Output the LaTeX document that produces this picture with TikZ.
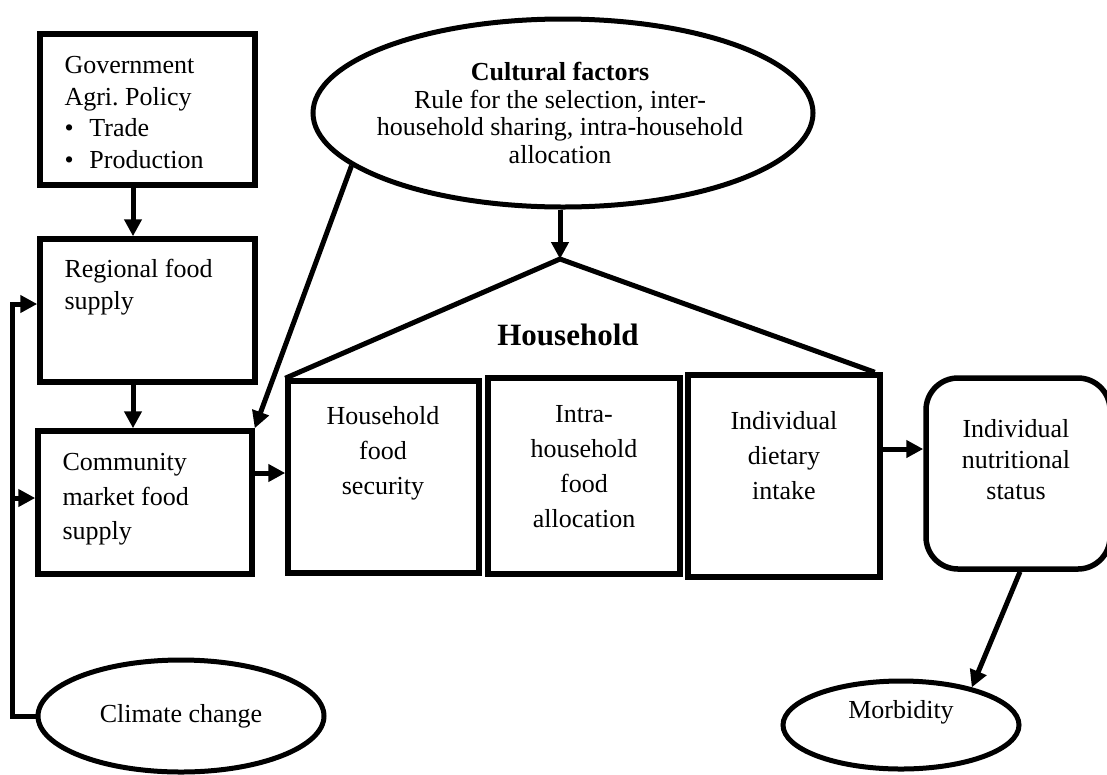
\documentclass[tikz,border=0pt]{standalone}
\usepackage{fontspec}
\setmainfont{Liberation Serif}
\usetikzlibrary{positioning,arrows.meta,shapes.geometric}

\begin{document}
\begin{tikzpicture}[x=1pt, y=-1pt, line width=5pt, line join=miter,
  >={Triangle[length=17pt,width=17pt]},
  box/.style={draw, line width=5.5pt, inner sep=0pt},
  oval/.style={draw, ellipse, line width=5pt, inner sep=0pt, font=\fontsize{26}{30}\selectfont},
  txt/.style={inner sep=0pt, font=\fontsize{26}{#1}\selectfont},
  txt/.default=35,
  arr/.style={->, line width=5pt}]
  \useasboundingbox (0,0) rectangle (1107,774);
  \node[box, minimum width=215pt, minimum height=151pt] (gov) at (147.5,109.5) {};
  \node[box, minimum width=215pt, minimum height=143pt] (regional) at (147.5,310.5) {};
  \node[box, minimum width=214pt, minimum height=143pt] (community) at (145,502.5) {};
  \node[box, minimum width=191pt, minimum height=192pt] (hfs) at (383.5,477) {};
  \node[box, minimum width=192pt, minimum height=196pt] (intra) at (584,476) {};
  \node[box, minimum width=192pt, minimum height=202pt] (intake) at (784,476) {};
  \node[box, rounded corners=32pt, minimum width=184pt, minimum height=191pt] (nutr) at (1018,473.5) {};
  \node[oval, minimum width=500pt, minimum height=188pt] (cultural) at (563,113) {};
  \node[oval, minimum width=286pt, minimum height=112pt] (climate) at (181,716) {Climate change};
  \node[oval, minimum width=236pt, minimum height=88pt, text depth=32pt] (morb) at (901,725) {Morbidity};
  \node[txt=31.5, align=left, anchor=north west] (govtxt) at (62,54)
    {Government\\Agri.\ Policy\\\makebox[25pt][l]{\textbullet}Trade\\\makebox[25pt][l]{\textbullet}Production};
  \node[txt=32, align=left, anchor=north west] (regtxt) at (62,257) {Regional food\\supply};
  \node[txt=34.5, align=left, anchor=north west] (comtxt) at (60,451) {Community\\market food\\supply};
  \node[txt, align=center, anchor=north] (hfstxt) at (383,404) {Household\\food\\security};
  \node[txt, align=center, anchor=north] (intratxt) at (584,403) {Intra-\\household\\food\\allocation};
  \node[txt, align=center, anchor=north] (intaketxt) at (784,409) {Individual\\dietary\\intake};
  \node[txt=31, align=center, anchor=north] (nutrtxt) at (1016,417) {Individual\\nutritional\\status};
  \node[txt=27.5, align=center, anchor=north] (cultxt) at (560,60)
    {\textbf{Cultural factors}\\Rule for the selection, inter-\\household sharing, intra-household\\allocation};
  \node[inner sep=0pt, font=\fontsize{31}{35}\bfseries\selectfont] (hh) at (568,335) {Household};
  \coordinate (apex) at (560,259);
  \coordinate (fbtop) at (12,304);
  \coordinate (fbmid) at (12,498);
  \coordinate (cm) at ([yshift=29.5pt]community.east);
  \coordinate (ie) at ([yshift=27pt]intake.east);
  \draw (hfs.north west) -- (apex) -- ([xshift=-8pt]intake.north east);
  \draw[arr] (cultural.south -| apex) -- (apex);
  \draw[arr] (cultural.194) -- (community.north east);
  \draw[arr] ([xshift=-14.5pt]gov.south) -- ([xshift=-14.5pt]regional.north);
  \draw[arr] ([xshift=-14.5pt]regional.south) -- ([xshift=-12pt]community.north);
  \draw[arr] (cm) -- (cm -| hfs.west);
  \draw[arr] (ie) -- (ie -| nutr.west);
  \draw[arr] ([xshift=2pt]nutr.south) -- (morb.28);
  \draw[arr] (climate.west) -- (climate.west -| fbtop) -- (fbtop) -- (fbtop -| regional.west);
  \draw[arr] (fbmid) -- (fbmid -| community.west);
\end{tikzpicture}
\end{document}
